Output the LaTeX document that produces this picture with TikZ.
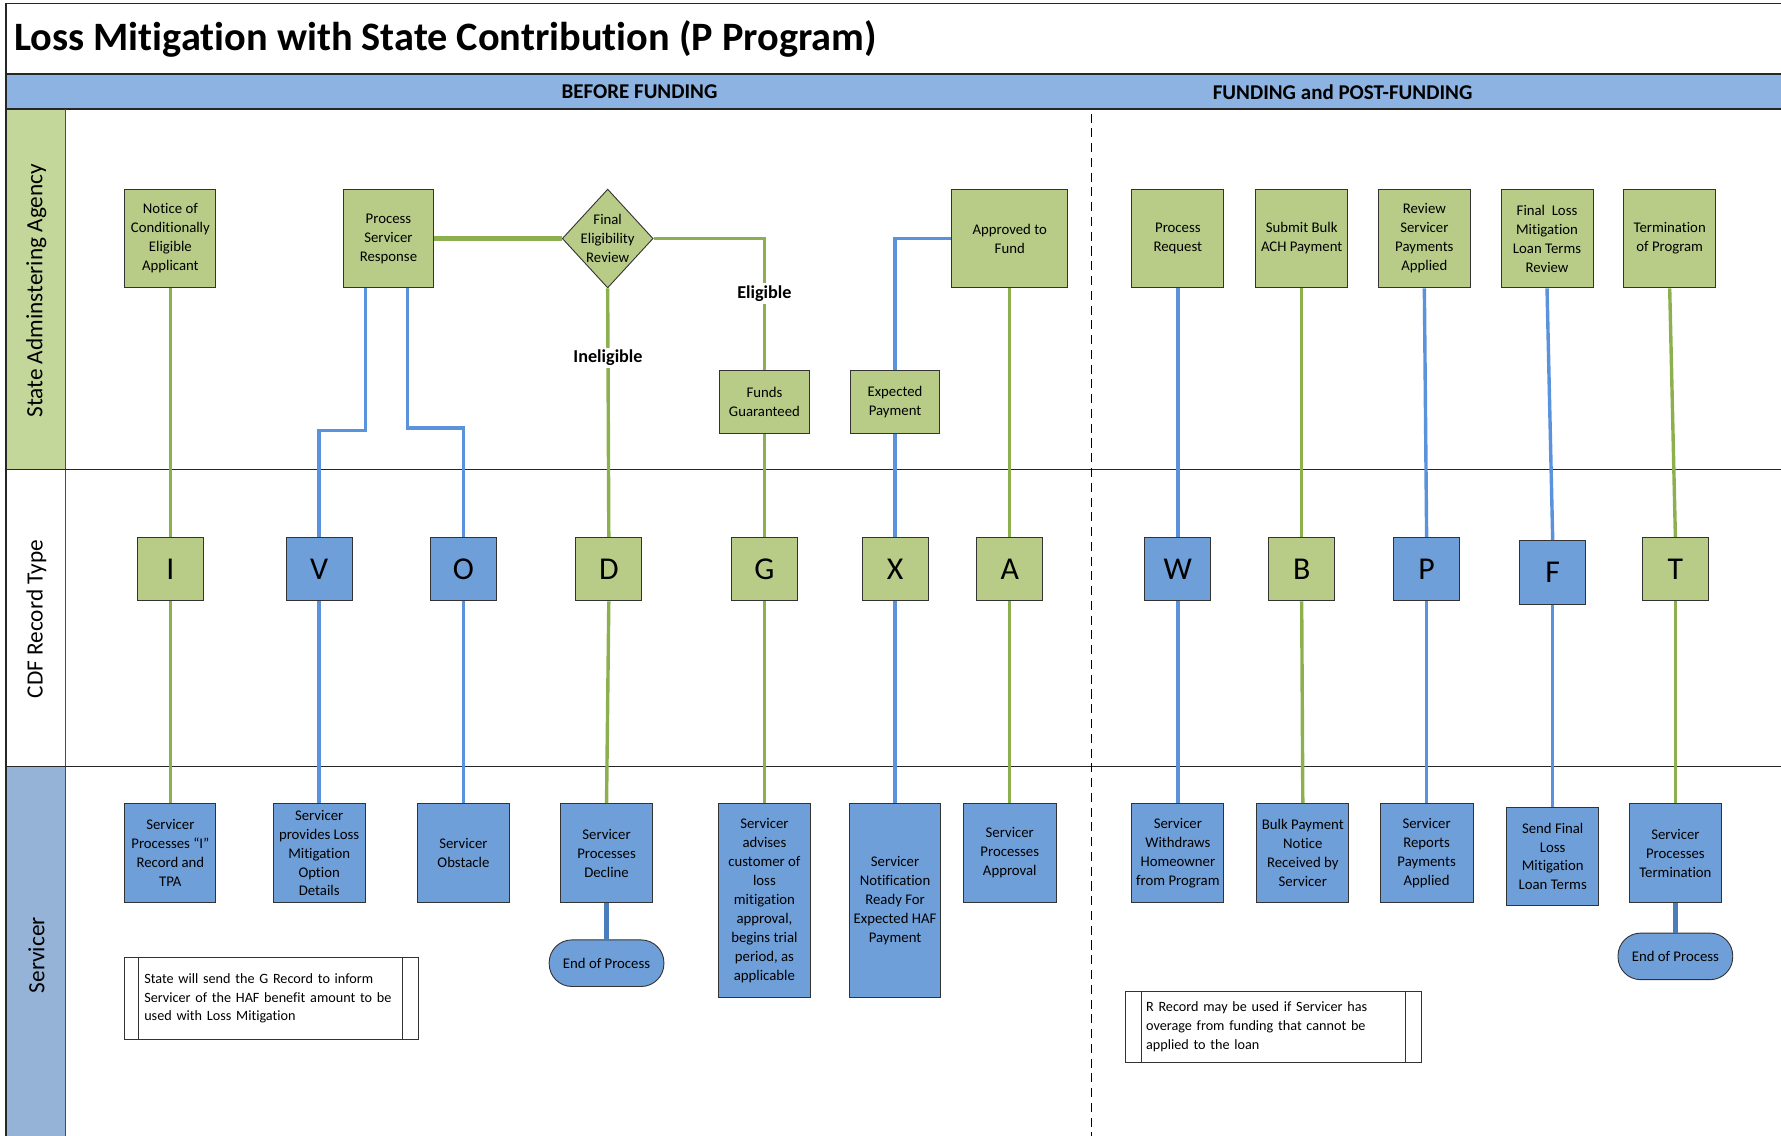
\documentclass[tikz,border=0pt]{standalone}
\usepackage{fontspec}
\setmainfont{Carlito}[Ligatures={TeX,NoCommon}]
\usetikzlibrary{positioning,shapes.geometric}

\definecolor{boxgreen}{HTML}{B8CC88}
\definecolor{boxblue}{HTML}{6F9FD9}
\definecolor{linegreen}{HTML}{8DB04E}
\definecolor{lineblue}{HTML}{5A93DB}
\definecolor{enddark}{HTML}{4A7EBB}
\definecolor{headblue}{HTML}{8DB3E2}
\definecolor{lanegreen}{HTML}{C4D79B}
\definecolor{laneblue}{HTML}{95B3D7}

\begin{document}
\begin{tikzpicture}[x=1pt, y=-1pt,
    boxtext/.style={align=center, font=\fontsize{13}{16.7}\selectfont},
    stepbox/.style={boxtext, draw=black!80, line width=0.8pt, minimum width=80pt, minimum height=87pt, inner sep=1pt},
    gbox/.style={stepbox, fill=boxgreen},
    bbox/.style={stepbox, fill=boxblue},
    decision/.style={diamond, draw=black!80, line width=0.8pt, fill=boxgreen, minimum width=80pt, minimum height=87pt, inner sep=0pt},
    rec/.style={draw=black!80, line width=0.8pt, minimum width=58pt, minimum height=56pt, font=\fontsize{28}{30}\selectfont},
    grec/.style={rec, fill=boxgreen},
    brec/.style={rec, fill=boxblue},
    endbox/.style={boxtext, draw=black!80, line width=0.8pt, fill=boxblue, rounded corners=20pt, minimum width=101pt, minimum height=41pt},
    notebox/.style={draw=black!80, line width=0.8pt, align=left, font=\fontsize{12.5}{16.5}\selectfont},
    gline/.style={draw=linegreen, line width=3pt},
    bline/.style={draw=lineblue, line width=3pt},
    endline/.style={draw=enddark, line width=4pt},
    lbl/.style={fill=white, inner sep=2pt, font=\bfseries\fontsize{16}{18}\selectfont},
    lanetext/.style={rotate=90, font=\fontsize{20.5}{24}\selectfont}
  ]
    \useasboundingbox (0,0) rectangle (1568,1000);

    % Lanes and headers
    \fill[headblue] (5,65) rectangle (1568,96);
    \fill[lanegreen] (5,96) rectangle (58,413);
    \fill[laneblue] (5,675) rectangle (58,1000);
    \draw[line width=1.5pt, black!85] (5,1000) -- (5,3) -- (1568,3);
    \draw[line width=1.5pt, black!85] (5,65) -- (1568,65);
    \draw[line width=1.5pt, black!85] (5,96) -- (1568,96);
    \draw[line width=0.8pt, black!70] (58,96) -- (58,1000);
    \draw[line width=0.8pt, black!85] (5,413) -- (1568,413);
    \draw[line width=0.8pt, black!85] (5,675) -- (1568,675);
    \draw[line width=1.2pt, dash pattern=on 8pt off 5pt] (961,100) -- (961,1000);

    \node[anchor=west, font=\bfseries\fontsize{35.5}{40}\selectfont] (title) at (9,34) {Loss Mitigation with State Contribution (P Program)};
    \node[font=\bfseries\fontsize{18.5}{22}\selectfont] (before) at (563,81) {BEFORE FUNDING};
    \node[font=\bfseries\fontsize{18.5}{22}\selectfont] (after) at (1182,81) {FUNDING and POST-FUNDING};
    \node[lanetext] (laneagency) at (32,256) {State Adminstering Agency};
    \node[lanetext] (lanecdf) at (32,545) {CDF Record Type};
    \node[lanetext] (laneservicer) at (32,841) {Servicer};

    % Nodes - State Adminstering Agency
    \node[gbox] (notice) at (150,210) {Notice of\\Conditionally\\Eligible\\Applicant};
    \node[gbox] (psr) at (342,210) {Process\\Servicer\\Response};
    \node[decision] (review) at (535,210) {};
    \node[boxtext] (reviewtext) at (review.center) {Final\\Eligibility\\Review};
    \node[gbox, minimum width=79pt, minimum height=56pt] (fundsg) at (673,354) {Funds\\Guaranteed};
    \node[gbox, minimum width=79pt, minimum height=56pt] (exppay) at (788,354) {Expected\\Payment};
    \node[gbox, minimum width=102pt] (approved) at (889,210) {Approved to\\Fund};
    \node[gbox, minimum width=81pt] (procreq) at (1037,210) {Process\\Request};
    \node[gbox, minimum width=81pt] (bulkach) at (1146,210) {Submit Bulk\\ACH Payment};
    \node[gbox, minimum width=81pt] (reviewpay) at (1254,210) {Review\\Servicer\\Payments\\Applied};
    \node[gbox, minimum width=81pt] (finalterms) at (1362,210) {Final~ Loss\\Mitigation\\Loan Terms\\Review};
    \node[gbox, minimum width=81pt] (termprog) at (1470,210) {Termination\\of Program};

    % Nodes - CDF Record Type
    \node[grec] (recI) at (150,501) {I};
    \node[brec] (recV) at (281,501) {V};
    \node[brec] (recO) at (408,501) {O};
    \node[grec] (recD) at (536,501) {D};
    \node[grec] (recG) at (673,501) {G};
    \node[grec] (recX) at (788,501) {X};
    \node[grec] (recA) at (889,501) {A};
    \node[brec] (recW) at (1037,501) {W};
    \node[grec] (recB) at (1146,501) {B};
    \node[brec] (recP) at (1256,501) {P};
    \node[brec] (recF) at (1367,504) {F};
    \node[grec] (recT) at (1475,501) {T};

    % Nodes - Servicer
    \node[bbox] (svcI) at (150,751) {Servicer\\Processes ``I''\\Record and\\TPA};
    \node[bbox, minimum width=81pt] (svcV) at (281,751) {Servicer\\provides Loss\\Mitigation\\Option\\Details};
    \node[bbox, minimum width=81pt] (svcO) at (408,751) {Servicer\\Obstacle};
    \node[bbox, minimum width=81pt] (svcD) at (534,751) {Servicer\\Processes\\Decline};
    \node[endbox] (endD) at (534,848) {End of Process};
    \node[bbox, minimum width=81pt, minimum height=171pt] (svcG) at (673,793) {Servicer\\advises\\customer of\\loss\\mitigation\\approval,\\begins trial\\period, as\\applicable};
    \node[bbox, minimum height=171pt] (svcX) at (788,793) {Servicer\\Notification\\Ready For\\Expected HAF\\Payment};
    \node[bbox, minimum width=82pt] (svcA) at (889,751) {Servicer\\Processes\\Approval};
    \node[bbox, minimum width=81pt] (svcW) at (1037,751) {Servicer\\Withdraws\\Homeowner\\from Program};
    \node[bbox, minimum width=81pt] (svcB) at (1147,751) {Bulk Payment\\Notice\\Received by\\Servicer};
    \node[bbox, minimum width=82pt] (svcP) at (1256,751) {Servicer\\Reports\\Payments\\Applied};
    \node[bbox, minimum width=81pt] (svcF) at (1367,754) {Send Final\\Loss\\Mitigation\\Loan Terms};
    \node[bbox, minimum width=81pt] (svcT) at (1475,751) {Servicer\\Processes\\Termination};
    \node[endbox] (endT) at (1475,842) {End of Process};

    % Notes
    \node[notebox, minimum width=258pt, minimum height=72pt, text width=224pt] (noteG) at (239,879) {State will send the G Record to inform\\Servicer of the HAF benefit amount to be\\used with Loss Mitigation};
    \node[notebox, minimum width=260pt, minimum height=63pt, text width=224pt] (noteR) at (1121,904) {R Record may be used if Servicer has\\overage from funding that cannot be\\applied to the loan};
    \draw[line width=0.8pt, black!80] ([xshift=12pt]noteG.north west) -- ([xshift=12pt]noteG.south west);
    \draw[line width=0.8pt, black!80] ([xshift=-14pt]noteG.north east) -- ([xshift=-14pt]noteG.south east);
    \draw[line width=0.8pt, black!80] ([xshift=14pt]noteR.north west) -- ([xshift=14pt]noteR.south west);
    \draw[line width=0.8pt, black!80] ([xshift=-14pt]noteR.north east) -- ([xshift=-14pt]noteR.south east);

    % Connectors
    \draw[gline] (notice.south) -- (recI.north);
    \draw[gline] (recI.south) -- (svcI.north);
    \draw[bline] ([xshift=-20pt]psr.south) -- ++(0,125) -| (recV.north);
    \draw[bline] ([xshift=17pt]psr.south) -- ++(0,123) -| (recO.north);
    \draw[bline] (recV.south) -- (svcV.north);
    \draw[bline] (recO.south) -- (svcO.north);
    \draw[gline, line width=3.6pt] (psr.east) -- (review.west);
    \draw[gline] (review.south) -- node[lbl, pos=0.28] (inelig) {Ineligible} (recD.north);
    \draw[gline] (recD.south) -- (svcD.north);
    \draw[endline] (svcD.south) -- (endD.north);
    \draw[gline] (review.east) -| node[lbl, pos=0.71] (elig) {Eligible} (fundsg.north);
    \draw[gline] (fundsg.south) -- (recG.north);
    \draw[gline] (recG.south) -- (svcG.north);
    \draw[bline] (exppay.north) |- (approved.west);
    \draw[bline] (exppay.south) -- (recX.north);
    \draw[bline] (recX.south) -- (svcX.north);
    \draw[gline] (approved.south) -- (recA.north);
    \draw[gline] (recA.south) -- (svcA.north);
    \draw[bline] (procreq.south) -- (recW.north);
    \draw[bline] (recW.south) -- (svcW.north);
    \draw[gline] (bulkach.south) -- (recB.north);
    \draw[gline] (recB.south) -- (svcB.north);
    \draw[bline] (reviewpay.south) -- (recP.north);
    \draw[bline] (recP.south) -- (svcP.north);
    \draw[bline] (finalterms.south) -- (recF.north);
    \draw[bline] (recF.south) -- (svcF.north);
    \draw[gline] (termprog.south) -- (recT.north);
    \draw[gline] (recT.south) -- (svcT.north);
    \draw[endline] (svcT.south) -- (endT.north);
\end{tikzpicture}
\end{document}
